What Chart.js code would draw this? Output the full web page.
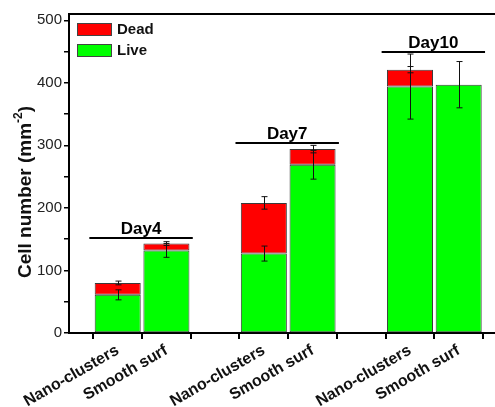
<!DOCTYPE html>
<html>
<head>
<meta charset="utf-8">
<script src="https://cdn.jsdelivr.net/npm/chart.js@4"></script>
<style>
  html, body { margin: 0; padding: 0; background: #fff; overflow: hidden; }
  #wrap { width: 519px; height: 407px; }
</style>
</head>
<body>
<div id="wrap"><canvas id="chart" width="519" height="407"></canvas></div>
<script>
const days = ["Day4", "Day7", "Day10"];
const surfaces = ["Nano-clusters", "Smooth surf"];
// per day: Nano-clusters, Smooth surf
const liveCells = [61, 132, 127, 269, 394, 397];
const deadCells = [19, 11, 81, 25, 27, 0];
const liveErr = [8, 11, 12, 23, 52, 37];
const totalErr = [3, 3, 10, 6, 5, 0];
const dayLineLevel = [152, 303, 449];
const yMax = 510;

const FONT = "'Liberation Sans', Arial, sans-serif";

// category slots: a blank slot before each day group
const labels = [];
const liveData = [];
const deadData = [];
const slotOf = [];
days.forEach((d, di) => {
  labels.push("");
  liveData.push(null);
  deadData.push(null);
  surfaces.forEach((s, si) => {
    const k = di * surfaces.length + si;
    slotOf.push(labels.length);
    labels.push(s);
    liveData.push(liveCells[k]);
    deadData.push(deadCells[k]);
  });
});
labels.push("");
liveData.push(null);
deadData.push(null);

const extras = {
  id: "extras",
  afterDatasetsDraw(chart) {
    const ctx = chart.ctx;
    const x = chart.scales.x;
    const y = chart.scales.y;
    const area = chart.chartArea;
    const step = x.getPixelForValue(1) - x.getPixelForValue(0);

    ctx.save();
    // error bars
    ctx.strokeStyle = "#111";
    ctx.lineWidth = 1;
    slotOf.forEach((slot, k) => {
      const px = Math.round(x.getPixelForValue(slot)) + 0.5;
      const pairs = [
        [liveCells[k], liveErr[k]],
        [liveCells[k] + deadCells[k], totalErr[k]],
      ];
      pairs.forEach(([v, e]) => {
        if (!e) return;
        const y1 = y.getPixelForValue(v + e);
        const y2 = y.getPixelForValue(v - e);
        ctx.beginPath();
        ctx.moveTo(px, y1);
        ctx.lineTo(px, y2);
        ctx.moveTo(px - 3, y1);
        ctx.lineTo(px + 3, y1);
        ctx.moveTo(px - 3, y2);
        ctx.lineTo(px + 3, y2);
        ctx.stroke();
      });
    });

    // day group lines and labels
    ctx.strokeStyle = "#000";
    ctx.fillStyle = "#000";
    ctx.lineWidth = 2;
    ctx.font = "bold 17px " + FONT;
    ctx.textAlign = "center";
    ctx.textBaseline = "alphabetic";
    days.forEach((d, di) => {
      const a = slotOf[di * 2];
      const b = slotOf[di * 2 + 1];
      const x1 = x.getPixelForValue(a) - step / 2 - 4;
      const x2 = x.getPixelForValue(b) + step / 2 + 2;
      const ly = Math.round(y.getPixelForValue(dayLineLevel[di]));
      ctx.beginPath();
      ctx.moveTo(x1, ly);
      ctx.lineTo(x2, ly);
      ctx.stroke();
      ctx.fillText(d, (x1 + x2) / 2, ly - 4);
    });

    // top frame
    ctx.beginPath();
    ctx.moveTo(area.left - 1, area.top);
    ctx.lineTo(area.right, area.top);
    ctx.stroke();

    // y axis title with superscript
    ctx.save();
    ctx.translate(31, 192);
    ctx.rotate(-Math.PI / 2);
    ctx.fillStyle = "#111";
    ctx.textBaseline = "alphabetic";
    ctx.textAlign = "left";
    const bigFont = "bold 19px " + FONT;
    const supFont = "bold 12px " + FONT;
    const parts = [["Cell number (mm", bigFont, 0], ["-2", supFont, -9], [")", bigFont, 0]];
    let total = 0;
    parts.forEach(([t, f]) => { ctx.font = f; total += ctx.measureText(t).width; });
    let cx = -total / 2;
    parts.forEach(([t, f, dy]) => {
      ctx.font = f;
      ctx.fillText(t, cx, dy);
      cx += ctx.measureText(t).width;
    });
    ctx.restore();

    // legend
    const items = [["Dead", "#ff0000"], ["Live", "#00ff00"]];
    ctx.font = "bold 15px " + FONT;
    ctx.textAlign = "left";
    ctx.textBaseline = "middle";
    ctx.lineWidth = 1;
    items.forEach(([name, col], i) => {
      const bx = area.left + 8;
      const by = area.top + 9 + i * 21;
      ctx.fillStyle = col;
      ctx.fillRect(bx, by, 35, 13);
      ctx.strokeStyle = "#444";
      ctx.strokeRect(bx + 0.5, by + 0.5, 34, 12);
      ctx.fillStyle = "#111";
      ctx.fillText(name, bx + 40, by + 7);
    });
    ctx.restore();
  },
};

new Chart(document.getElementById("chart"), {
  type: "bar",
  data: {
    labels: labels,
    datasets: [
      {
        label: "Live",
        data: liveData,
        backgroundColor: "#00ff00",
        borderColor: "#3a3a3a",
        borderWidth: 1,
        borderSkipped: false,
      },
      {
        label: "Dead",
        data: deadData,
        backgroundColor: "#ff0000",
        borderColor: "#3a3a3a",
        borderWidth: 1,
        borderSkipped: false,
      },
    ],
  },
  options: {
    responsive: false,
    animation: false,
    categoryPercentage: 1,
    barPercentage: 0.945,
    layout: { padding: { top: 14, right: 3, left: 0, bottom: 0 } },
    plugins: {
      legend: { display: false },
      tooltip: { enabled: false },
    },
    scales: {
      x: {
        stacked: true,
        offset: false,
        grid: {
          drawOnChartArea: false,
          drawTicks: true,
          tickLength: 6,
          color: "#000",
          lineWidth: 2,
        },
        border: { color: "#000", width: 2 },
        ticks: {
          autoSkip: false,
          minRotation: 30,
          maxRotation: 30,
          color: "#111",
          padding: 2,
          font: { family: FONT, size: 16, weight: "bold" },
        },
        afterFit(scale) {
          scale.height = 74;
        },
      },
      y: {
        stacked: true,
        min: 0,
        max: yMax,
        grid: {
          drawOnChartArea: false,
          tickLength: 5,
          color: "#000",
          lineWidth: 1.5,
        },
        border: { color: "#000", width: 2 },
        ticks: {
          stepSize: 50,
          maxTicksLimit: 20,
          includeBounds: false,
          color: "#222",
          padding: 2,
          font: { family: FONT, size: 15 },
          callback: (v) => (v % 100 === 0 ? v : ""),
        },
        afterFit(scale) {
          scale.width = 69;
        },
      },
    },
  },
  plugins: [extras],
});
</script>
</body>
</html>
